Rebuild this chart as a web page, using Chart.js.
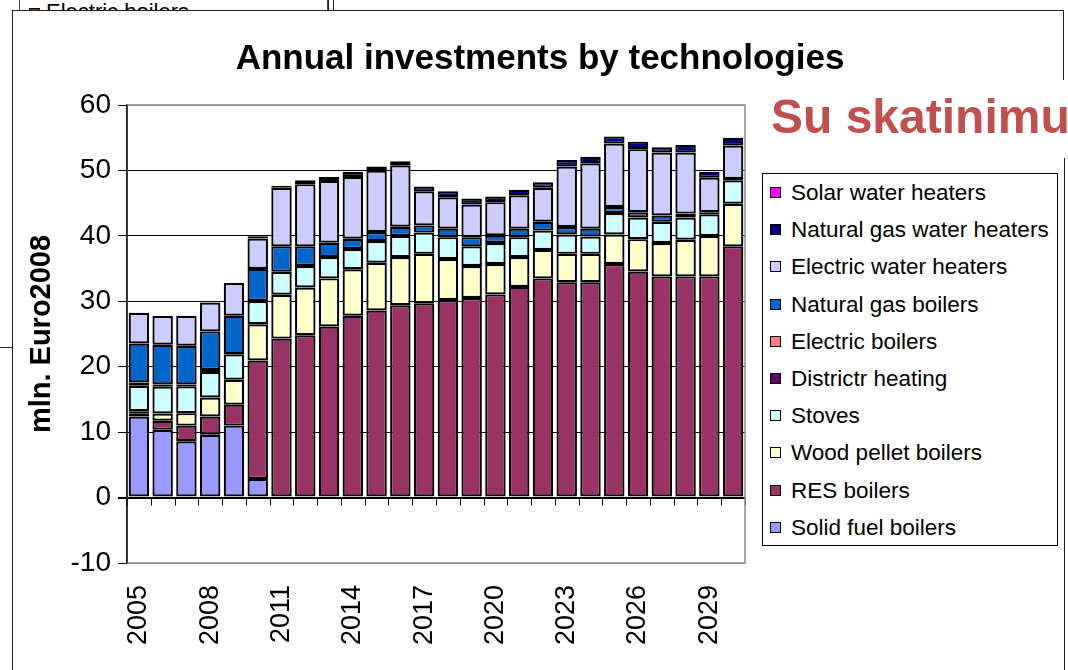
<!DOCTYPE html>
<html lang="en">
<head>
<meta charset="UTF-8">
<title>Annual investments by technologies</title>
<script src="https://cdn.jsdelivr.net/npm/chart.js"></script>
<style>
    body {
        margin: 0;
        width: 1068px;
        height: 670px;
        overflow: hidden;
        background: #fff;
        font-family: "Liberation Sans", Arial, sans-serif;
        position: relative;
    }
    #wrap {
        position: absolute;
        left: 0; top: 0;
        width: 1068px; height: 670px;
    }
    .line { position: absolute; background: #222; }
    #title {
        position: absolute;
        left: 0; top: 39px; width: 1080px;
        text-align: center;
        font-weight: bold;
        font-size: 35px;
        line-height: 35px;
    }
    #red {
        position: absolute;
        left: 771px; top: 93px;
        font-weight: bold;
        font-size: 48px;
        line-height: 48px;
        color: #C0504D;
        white-space: nowrap;
    }
    #legend {
        position: absolute;
        left: 762px; top: 173px;
        width: 294px; height: 371px;
        border: 1px solid #000;
        background: #fff;
    }
    #legend .item {
        height: 37.2px;
        line-height: 37.2px;
        font-size: 22.5px;
        position: relative;
        white-space: nowrap;
    }
    #legend .box {
        position: absolute;
        left: 7px; top: 13px;
        width: 9px; height: 9px;
        border: 1px solid #000;
    }
    #legend .txt { position: absolute; left: 28px; }
    #frag {
        position: absolute;
        left: 19px; top: 0;
        width: 307px; height: 10px;
        overflow: hidden;
        border-left: 1px solid #444;
        border-right: 1px solid #444;
    }
</style>
</head>
<body>

<!-- pieces of the slide behind the chart -->
<div id="frag">
    <div style="position:absolute;left:9px;top:8px;width:9px;height:9px;background:#8a3a3a;border:1px solid #000"></div>
    <div style="position:absolute;left:26px;top:1px;font-size:22px;line-height:22px">Electric boilers</div>
</div>
<div class="line" style="left:328px;top:0;width:1px;height:10px"></div>
<div class="line" style="left:333px;top:0;width:1px;height:10px"></div>
<div class="line" style="left:0;top:347px;width:12px;height:1px"></div>

<!-- chart frame -->
<div class="line" style="left:12px;top:10px;width:1052px;height:1px"></div>
<div class="line" style="left:12px;top:10px;width:1px;height:660px"></div>
<div class="line" style="left:1063px;top:10px;width:1px;height:70px"></div>
<div class="line" style="left:1064px;top:158px;width:1px;height:512px"></div>

<div id="wrap"><canvas id="chart"></canvas></div>

<div id="title">Annual investments by technologies</div>
<div id="legend"></div>
<div id="red">Su skatinimu</div>

<script>
    const years = [2005, 2006, 2007, 2008, 2009, 2010, 2011, 2012, 2013, 2014, 2015, 2016, 2017,
                   2018, 2019, 2020, 2021, 2022, 2023, 2024, 2025, 2026, 2027, 2028, 2029, 2030];

    // bottom to top in the stack
    const solidFuel = [12.4, 10.35, 8.6, 9.6, 11.0, 2.85, 0, 0, 0, 0, 0, 0, 0,
                       0, 0, 0, 0, 0, 0, 0, 0, 0, 0, 0, 0, 0];
    const resBoilers = [0.5, 1.4, 2.4, 2.8, 3.2, 18.1, 24.3, 24.8, 26.15, 27.8, 28.6, 29.4, 29.7,
                        30.2, 30.5, 31.05, 32.2, 33.5, 32.9, 32.9, 35.7, 34.55, 33.8, 33.8, 33.8, 38.4];
    const woodPellet = [0.3, 1.1, 1.9, 2.9, 3.8, 5.55, 6.7, 7.3, 7.35, 7.1, 7.3, 7.35, 7.55,
                        6.25, 4.9, 4.65, 4.55, 4.35, 4.35, 4.35, 4.5, 4.95, 5.1, 5.6, 6.2, 6.5];
    const stoves = [3.9, 4.1, 4.1, 3.9, 3.9, 3.55, 3.5, 3.3, 3.25, 3.1, 3.3, 3.25, 3.25,
                    3.35, 3.0, 3.2, 3.05, 2.95, 2.95, 2.65, 3.3, 3.3, 3.25, 3.4, 3.3, 3.6];
    const districtHeating = [0, 0, 0.3, 0.3, 0, 0, 0, 0, 0, 0, 0, 0, 0,
                             0, 0, 0, 0, 0, 0, 0, 0, 0, 0, 0, 0, 0];
    const electricBoilers = [0.5, 0.35, 0, 0, 0, 0, 0, 0, 0, 0, 0, 0, 0,
                             0, 0, 0, 0, 0, 0, 0, 0, 0, 0, 0, 0, 0];
    const gasBoilers = [5.95, 6.05, 5.9, 5.9, 5.9, 4.9, 3.9, 3.0, 2.2, 1.55, 1.4, 1.4, 1.1,
                        1.3, 1.4, 1.15, 1.3, 1.35, 1.15, 1.2, 0.9, 0.8, 0.95, 0.6, 0.3, 0.2];
    const electricWater = [4.7, 4.4, 4.6, 4.4, 5.0, 4.65, 8.95, 9.5, 9.45, 9.45, 9.4, 9.4, 5.2,
                           4.8, 5.0, 5.1, 5.1, 5.2, 9.25, 10.0, 9.7, 9.65, 9.65, 9.35, 5.3, 5.1];
    const gasWater = [0, 0, 0, 0, 0, 0.35, 0.3, 0.6, 0.6, 0.8, 0.6, 0.6, 0.75,
                      0.9, 0.9, 0.85, 0.85, 0.85, 1.0, 1.0, 1.1, 1.15, 0.8, 1.15, 0.9, 1.2];
    const solarWater = [0, 0, 0, 0, 0, 0, 0, 0, 0, 0, 0, 0, 0,
                        0, 0, 0, 0, 0, 0, 0, 0, 0, 0, 0, 0, 0];

    const yTicks = [-10, 0, 10, 20, 30, 40, 50, 60];

    const series = [
        ['Solid fuel boilers', solidFuel, '#9999FF'],
        ['RES boilers', resBoilers, '#993366'],
        ['Wood pellet boilers', woodPellet, '#FFFFCC'],
        ['Stoves', stoves, '#CCFFFF'],
        ['Districtr heating', districtHeating, '#660066'],
        ['Electric boilers', electricBoilers, '#FF8080'],
        ['Natural gas boilers', gasBoilers, '#0066CC'],
        ['Electric water heaters', electricWater, '#CCCCFF'],
        ['Natural gas water heaters', gasWater, '#000080'],
        ['Solar water heaters', solarWater, '#FF00FF']
    ];

    Chart.defaults.font.family = '"Liberation Sans", Arial, sans-serif';
    Chart.defaults.color = '#000';

    // gray box round the plot area and small ticks under the zero line
    const plotExtras = {
        id: 'plotExtras',
        beforeDatasetsDraw(chart) {
            const ctx = chart.ctx, a = chart.chartArea;
            const x = chart.scales.x, y = chart.scales.y;
            const y0 = Math.round(y.getPixelForValue(0)) + 0.5;
            ctx.save();
            ctx.strokeStyle = '#000';
            ctx.lineWidth = 1;
            ctx.beginPath();
            for (let i = 0; i <= years.length; i++) {
                let px;
                if (i === 0) px = a.left;
                else if (i === years.length) px = a.right;
                else px = (x.getPixelForValue(i - 1) + x.getPixelForValue(i)) / 2;
                px = Math.round(px) + 0.5;
                ctx.moveTo(px, y0);
                ctx.lineTo(px, y0 + 7);
            }
            ctx.stroke();
            ctx.restore();
        },
        afterDraw(chart) {
            const ctx = chart.ctx, a = chart.chartArea;
            ctx.save();
            ctx.strokeStyle = '#8c8c8c';
            ctx.lineWidth = 1.5;
            ctx.beginPath();
            ctx.moveTo(a.left, a.top);
            ctx.lineTo(a.right, a.top);
            ctx.lineTo(a.right, a.bottom);
            ctx.lineTo(a.left, a.bottom);
            ctx.stroke();
            ctx.strokeStyle = '#222';
            ctx.beginPath();
            ctx.moveTo(a.left, a.top);
            ctx.lineTo(a.left, a.bottom);
            ctx.stroke();
            ctx.restore();
        }
    };

    const ctx = document.getElementById('chart').getContext('2d');
    const chart = new Chart(ctx, {
        type: 'bar',
        data: {
            labels: years.map(String),
            datasets: series.map(s => ({
                label: s[0],
                data: s[1].map(v => v === 0 ? null : v),
                backgroundColor: s[2],
                borderColor: '#000',
                borderWidth: 2.2,
                borderSkipped: false,
                categoryPercentage: 1.0,
                barPercentage: 0.86
            }))
        },
        options: {
            responsive: true,
            maintainAspectRatio: false,
            animation: false,
            layout: {
                padding: { left: 20, right: 323, top: 105, bottom: 0 }
            },
            plugins: {
                legend: { display: false },
                tooltip: { enabled: false }
            },
            scales: {
                x: {
                    stacked: true,
                    grid: { display: false, drawTicks: false },
                    border: { display: false },
                    ticks: {
                        autoSkip: false,
                        maxRotation: 90,
                        minRotation: 90,
                        padding: 22,
                        font: { size: 27 },
                        callback: (v, i) => i % 3 === 0 ? years[i] : ''
                    },
                    afterFit(scale) { scale.height = 107; }
                },
                y: {
                    stacked: true,
                    min: yTicks[0],
                    max: yTicks[yTicks.length - 1],
                    afterBuildTicks(scale) { scale.ticks = yTicks.map(v => ({ value: v })); },
                    grid: {
                        color: c => (c.tick && (c.tick.value === 60 || c.tick.value === -10)) ? '#8c8c8c' : '#000',
                        lineWidth: c => (c.tick && c.tick.value === 0) ? 2 : 1,
                        tickColor: '#000',
                        tickLength: 9
                    },
                    border: { display: true, color: '#222', width: 1.5 },
                    ticks: {
                        padding: 7,
                        font: { size: 28 }
                    },
                    title: {
                        display: true,
                        text: 'mln. Euro2008',
                        font: { size: 29, weight: 'bold' },
                        padding: { top: 5, bottom: 0 }
                    },
                    afterFit(scale) { scale.width = 107; }
                }
            }
        },
        plugins: [plotExtras]
    });

    // legend box, top entry is the top of the stack
    const legend = document.getElementById('legend');
    chart.data.datasets.slice().reverse().forEach(ds => {
        const row = document.createElement('div');
        row.className = 'item';
        row.innerHTML = '<span class="box" style="background:' + ds.backgroundColor + '"></span>' +
                        '<span class="txt">' + ds.label + '</span>';
        legend.appendChild(row);
    });
</script>
</body>
</html>
